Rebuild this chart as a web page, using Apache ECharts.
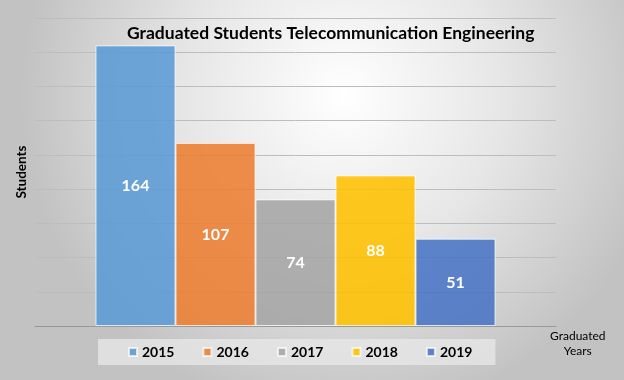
<!DOCTYPE html>
<html><head><meta charset="utf-8">
<script src="https://cdn.jsdelivr.net/npm/echarts@6/dist/echarts.min.js"></script>
<style>html,body{margin:0;padding:0;}#c{width:624px;height:380px;}</style>
</head><body><div id="c"></div>
<script>
const years = ['2015', '2016', '2017', '2018', '2019'];
const students = [164, 107, 74, 88, 51];
const colors = ['rgba(91,155,213,0.88)', 'rgba(237,125,49,0.88)', 'rgba(165,165,165,0.88)', 'rgba(255,192,0,0.88)', 'rgba(68,114,196,0.85)'];
const titleText = 'Graduated Students Telecommunication Engineering';
const yName = 'Students';
const xName = 'Graduated\nYears';

const chart = echarts.init(document.getElementById('c'));
const series = years.map((y, i) => ({
  name: y,
  type: 'bar',
  data: [students[i]],
  barWidth: 80,
  barGap: '0%',
  itemStyle: { color: colors[i], borderColor: 'rgba(255,255,255,0.7)', borderWidth: 1 },
  label: { show: true, position: 'inside', color: '#ffffff', fontWeight: 'bold', fontSize: 16, fontFamily: 'Lato' },
  emphasis: { disabled: true }
}));
chart.setOption({
  animation: false,
  graphic: [
    { type: 'rect', z: -10, silent: true, shape: { x: 0, y: 0, width: 624, height: 380 },
      style: { fill: { type: 'radial', x: 0.55, y: 0.25, r: 0.85,
        colorStops: [{ offset: 0, color: '#ffffff' }, { offset: 0.5, color: '#e6e6e6' }, { offset: 1, color: '#c2c2c2' }] } } },
    { type: 'text', left: 550, top: 329, z: 10,
      style: { text: xName, fill: '#000', font: '12px Lato', textAlign: 'center', lineHeight: 15, x: 29 } }
  ],
  title: { text: titleText, left: 122, top: 19, textStyle: { fontSize: 17.5, fontWeight: 'bold', color: '#000', fontFamily: 'Lato' } },
  legend: {
    data: years, bottom: 15, left: 98, itemWidth: 8, itemHeight: 8, itemGap: 28,
    padding: [6, 23, 6, 30],
    backgroundColor: 'rgba(232,232,232,0.75)',
    textStyle: { fontSize: 14, fontWeight: 'bold', color: '#000', fontFamily: 'Lato' },
    icon: 'rect'
  },
  grid: { left: 35, right: 68, top: 18, bottom: 54 },
  xAxis: { type: 'category', data: [''], axisLabel: { show: false }, axisTick: { show: false },
    axisLine: { lineStyle: { color: '#999', width: 1 } } },
  yAxis: { type: 'value', min: 0, max: 180, interval: 20, axisLabel: { show: false },
    name: yName, nameLocation: 'middle', nameGap: 6, nameRotate: 90,
    nameTextStyle: { fontSize: 13.5, fontWeight: 'bold', color: '#000', fontFamily: 'Lato' },
    splitLine: { lineStyle: { color: '#bdbdbd', width: 1 } }, axisLine: { show: false } },
  series: series
});
</script></body></html>
